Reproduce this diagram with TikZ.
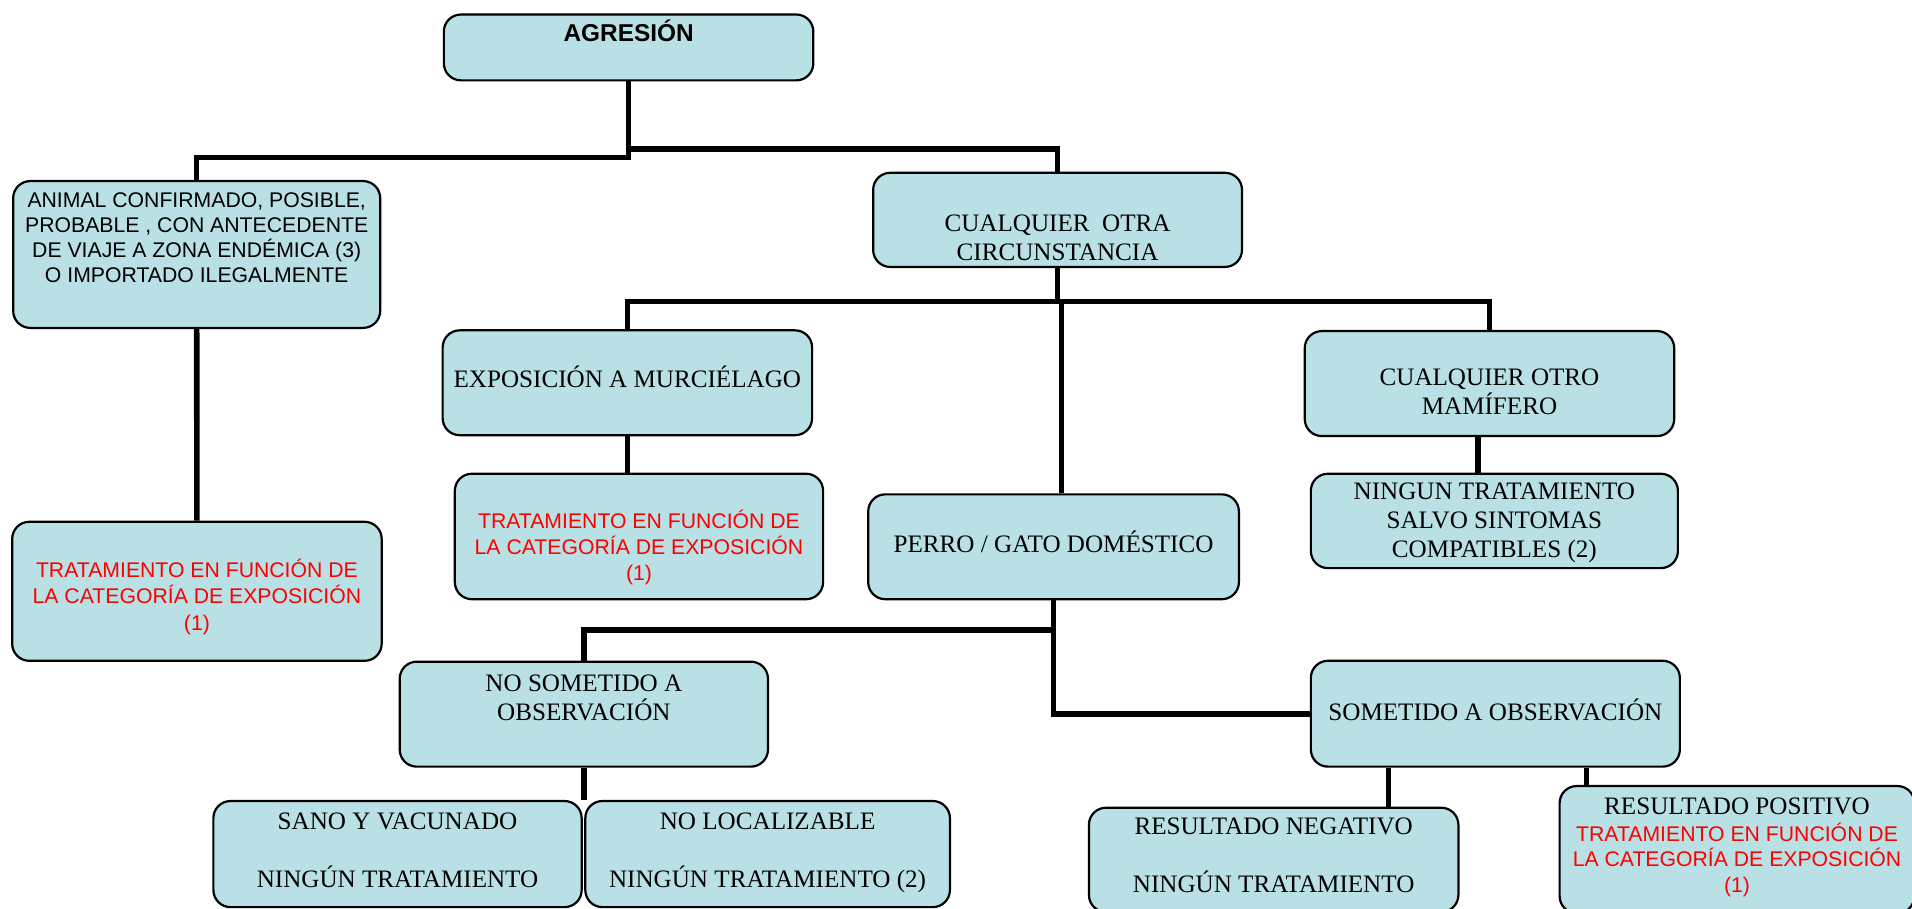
\documentclass[tikz,border=0pt]{standalone}
\usepackage{fontspec}
\setmainfont{Liberation Serif}
\setsansfont{Liberation Sans}
\usetikzlibrary{calc}
\definecolor{boxfill}{RGB}{185,224,228}
\newcommand\rojo[1]{{\sffamily\fontsize{8.7}{10.5}\selectfont\color{red}#1}}

\begin{document}
\begin{tikzpicture}[x=0.5pt, y=-0.5pt, line join=round,
	box/.style={draw, line width=0.9pt, rounded corners=7pt, fill=boxfill, anchor=north, inner sep=0pt, align=center, minimum width=151.5pt, font=\fontsize{10.3}{11.8}\selectfont},
	sans/.style={font=\sffamily\fontsize{8.7}{10.3}\selectfont},
	redtxt/.style={sans, text=red},
	link/.style={line width=2.3pt, line join=miter}]
	\useasboundingbox (0,0) rectangle (1568,745);
	\node[box, font=\sffamily\bfseries\fontsize{10}{12}\selectfont, text height=11.25pt, text depth=15.75pt] (agr) at (515.5,11) {AGRESIÓN};
	\node[box, sans, minimum width=150.5pt, text height=41.7pt, text depth=18.5pt] (anim) at (161.3,147.6) {ANIMAL CONFIRMADO, POSIBLE,\\ PROBABLE , CON ANTECEDENTE\\ DE VIAJE A ZONA ENDÉMICA (3)\\ O IMPORTADO ILEGALMENTE};
	\node[box, redtxt, text height=44.5pt, text depth=12.5pt] (trat1) at (161.5,427) {TRATAMIENTO EN FUNCIÓN DE\\[0.5pt] LA CATEGORÍA DE EXPOSICIÓN\\[0.5pt] (1)};
	\node[box, minimum width=151.25pt, text height=35.8pt, text depth=2.8pt] (cual) at (867.3,140.8) {CUALQUIER\ \ OTRA\\ CIRCUNSTANCIA};
	\node[box, text height=23.5pt, text depth=19.5pt] (expo) at (514.5,270) {EXPOSICIÓN A MURCIÉLAGO};
	\node[box, text height=34.1pt, text depth=8.95pt] (mam) at (1221.5,270.6) {CUALQUIER OTRO\\ MAMÍFERO};
	\node[box, redtxt, minimum width=151pt, text height=43.6pt, text depth=7.85pt] (trat2) at (524,387.6) {TRATAMIENTO EN FUNCIÓN DE\\[0.3pt] LA CATEGORÍA DE EXPOSICIÓN\\[0.3pt] (1)};
	\node[box, minimum width=152pt, text height=23.75pt, text depth=19.25pt] (perro) at (864,404.5) {PERRO / GATO DOMÉSTICO};
	\node[box, minimum width=150.5pt, text height=34.2pt, text depth=4.5pt] (ning) at (1225.5,387.6) {NINGUN TRATAMIENTO\\ SALVO SINTOMAS\\ COMPATIBLES (2)};
	\node[box, minimum width=151pt, text height=23.95pt, text depth=19.1pt] (nosom) at (478.8,541.7) {NO SOMETIDO A\\ OBSERVACIÓN};
	\node[box, minimum width=151.3pt, text height=24.3pt, text depth=19.1pt] (some) at (1226.3,541) {SOMETIDO A OBSERVACIÓN};
	\node[box, minimum width=151pt, text height=35.5pt, text depth=8pt] (sano) at (326,656) {SANO Y VACUNADO\\[12.1pt] NINGÚN TRATAMIENTO};
	\node[box, minimum width=149.5pt, text height=35.5pt, text depth=8pt] (noloc) at (629.5,656) {NO LOCALIZABLE\\[12.1pt] NINGÚN TRATAMIENTO (2)};
	\node[box, text height=34.75pt, text depth=8pt] (resneg) at (1044.5,661.5) {RESULTADO NEGATIVO\\[12.1pt] NINGÚN TRATAMIENTO};
	\node[box, minimum width=145.5pt, text height=43.65pt, text depth=8.5pt] (respos) at (1424.5,643.7) {RESULTADO POSITIVO\\[-0.8pt] \rojo{TRATAMIENTO EN FUNCIÓN DE}\\[-1.3pt] \rojo{LA CATEGORÍA DE EXPOSICIÓN}\\[-1.3pt] \rojo{(1)}};
	\path (515.5,129) coordinate (jl) (867.3,122) coordinate (jr)
		(514.5,247.4) coordinate (ml) (870.5,247.4) coordinate (mc) (1221.5,247.4) coordinate (mr)
		(864,516.6) coordinate (pb)
		($(mam.south)+(-9.5,0)$) coordinate (mo)
		($(some.south)+(-87.7,0)$) coordinate (sl)
		($(some.south)+(74.7,0)$) coordinate (sr);
	\draw[link] (agr.south) -- (jl) -| (anim.north);
	\draw[link] (agr.south |- jr) -- (jr) -- (cual.north);
	\draw[link] (cual.south) -- (cual.south |- ml);
	\draw[link] (expo.north) -- (ml) -- (mr) -- (mam.north);
	\draw[link] (mc) -- (mc |- perro.north);
	\draw[link] (anim.south) -- (trat1.north);
	\draw[link] (expo.south) -- (expo.south |- trat2.north);
	\draw[link] (mo) -- (mo |- ning.north);
	\draw[link] (perro.south) |- (some.west);
	\draw[link] (nosom.north) |- (pb);
	\draw[link] (nosom.south) -- (nosom.south |- sano.north);
	\draw[link] (sl) -- (sl |- resneg.north);
	\draw[link] (sr) -- (sr |- respos.north);
\end{tikzpicture}
\end{document}
